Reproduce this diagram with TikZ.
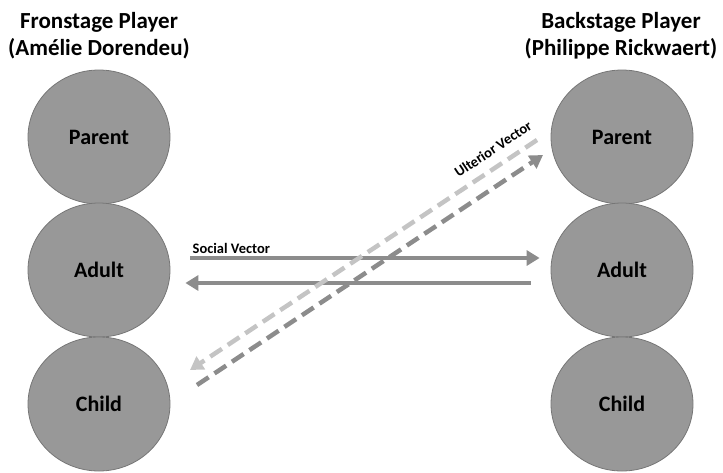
\documentclass[tikz,border=0pt]{standalone}
\usepackage{fontspec}
\setmainfont{Carlito}
\usetikzlibrary{arrows.meta,shapes.geometric}
\definecolor{egofill}{RGB}{152,152,152}
\definecolor{egoline}{RGB}{118,118,118}
\definecolor{vecdark}{RGB}{140,140,140}
\definecolor{veclight}{RGB}{196,196,196}
\tikzset{
  egostate/.style={ellipse,draw=egoline,fill=egofill,line width=0.8pt,
    minimum width=142pt,minimum height=134pt,inner sep=0pt,
    font=\bfseries\fontsize{22}{22}\selectfont},
  player/.style={align=center,font=\bfseries\fontsize{23}{27}\selectfont},
  vector/.style={line width=4.5pt,
    -{Triangle[length=13pt,width=15pt]}},
  veclabel/.style={font=\bfseries\fontsize{14.5}{16}\selectfont}
}
\begin{document}
\begin{tikzpicture}[x=1pt,y=-1pt]
   \useasboundingbox (0,0) rectangle (723,472);

   \node[player] (front) at (99,36)  {Fronstage Player\\(Amélie Dorendeu)};
   \node[player] (back)  at (621,36) {Backstage Player\\(Philippe Rickwaert)};

   \node[egostate] (lp) at (99,137)  {Parent};
   \node[egostate] (la) at (99,270)  {Adult};
   \node[egostate] (lc) at (99,404)  {Child};
   \node[egostate] (rp) at (622,137) {Parent};
   \node[egostate] (ra) at (622,270) {Adult};
   \node[egostate] (rc) at (622,404) {Child};

%   \node (sv) at () {};
   \draw[vector,vecdark] ([xshift=20pt,yshift=12pt]la.east) -- ([xshift=-11pt,yshift=12pt]ra.west)
      node[veclabel,pos=0,anchor=south west,text=black,inner xsep=0pt,inner ysep=2pt] (social) {Social Vector};
   \draw[vector,vecdark] ([xshift=-20pt,yshift=-13pt]ra.west) -- ([xshift=15pt,yshift=-13pt]la.east);

   \coordinate (ul1) at (537,140);
   \coordinate (ul2) at (190,370);
   \coordinate (ud1) at (197,385);
   \coordinate (ud2) at (543,155);
   \draw[vector,veclight,dash pattern=on 14pt off 7pt] (ul1) -- (ul2)
      node[veclabel,pos=0.1,sloped,above=6pt,text=black] (ulterior) {Ulterior Vector};
   \draw[vector,vecdark,dash pattern=on 14pt off 7pt] (ud1) -- (ud2);
\end{tikzpicture}
\end{document}
